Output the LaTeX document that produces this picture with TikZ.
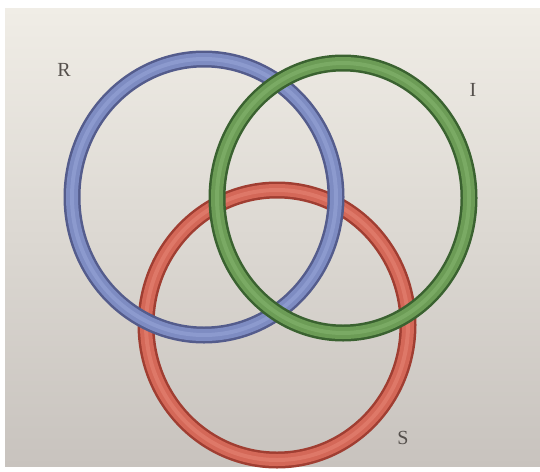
\documentclass[tikz,border=0pt]{standalone}
\usepackage{fontspec}
\setmainfont{Liberation Serif}
\definecolor{paperTop}{RGB}{240,237,230}
\definecolor{paperBot}{RGB}{200,195,190}
\definecolor{blueDark}{RGB}{84,92,140}
\definecolor{blueMain}{RGB}{126,140,194}
\definecolor{blueLight}{RGB}{140,154,206}
\definecolor{greenDark}{RGB}{58,98,48}
\definecolor{greenMain}{RGB}{108,156,86}
\definecolor{greenLight}{RGB}{122,170,100}
\definecolor{redDark}{RGB}{160,62,50}
\definecolor{redMain}{RGB}{212,104,88}
\definecolor{redLight}{RGB}{222,120,104}
\definecolor{labelgray}{RGB}{85,80,76}
\tikzset{
  ringedge/.style={line width=17pt},
  ringbody/.style={line width=12pt},
  ringshine/.style={line width=4pt},
  lbl/.style={text=labelgray, font=\fontsize{20}{22}\selectfont, inner sep=0pt}
}
\begin{document}
\begin{tikzpicture}[x=1pt,y=-1pt]
\useasboundingbox (0,0) rectangle (540,471);
\fill[white] (0,0) rectangle (540,471);
\shade[top color=paperTop, bottom color=paperBot] (5,8) rectangle (540,466);
% red ring (bottom)
\draw[ringedge, redDark] (277,325) ellipse [x radius=131, y radius=135];
\draw[ringbody, redMain] (277,325) ellipse [x radius=131, y radius=135];
\draw[ringshine, redLight] (277,325) ellipse [x radius=131, y radius=135];
% blue ring (middle)
\draw[ringedge, blueDark] (204,197) ellipse [x radius=132, y radius=138];
\draw[ringbody, blueMain] (204,197) ellipse [x radius=132, y radius=138];
\draw[ringshine, blueLight] (204,197) ellipse [x radius=132, y radius=138];
% green ring (top)
\draw[ringedge, greenDark] (343,198) ellipse [x radius=126, y radius=135];
\draw[ringbody, greenMain] (343,198) ellipse [x radius=126, y radius=135];
\draw[ringshine, greenLight] (343,198) ellipse [x radius=126, y radius=135];
% labels
\node[lbl] (R) at (64,70) {R};
\node[lbl] (I) at (473,90) {I};
\node[lbl] (S) at (403,438) {S};
\end{tikzpicture}
\end{document}
